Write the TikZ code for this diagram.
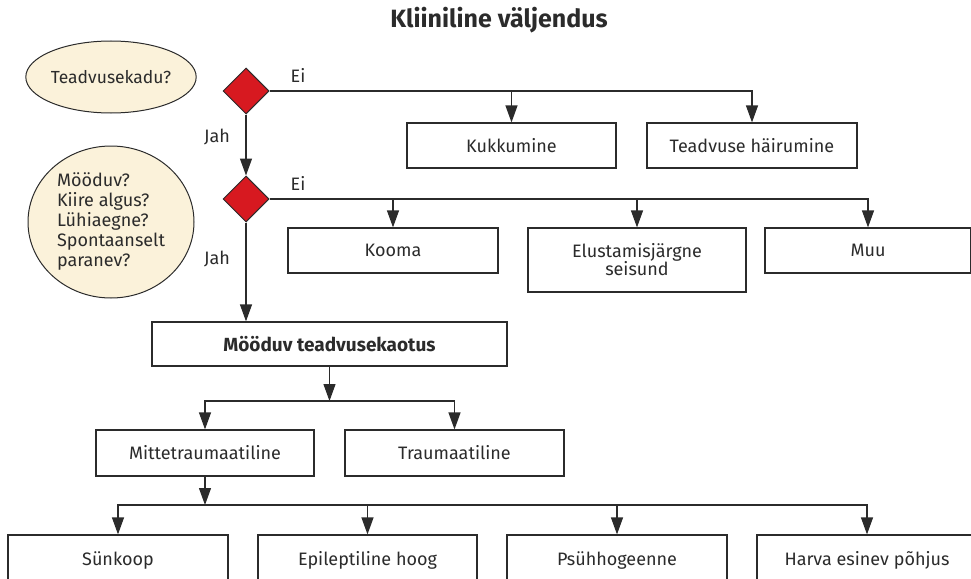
\documentclass[tikz,border=0pt]{standalone}
\usepackage{fontspec}
\setmainfont{Fira Sans}
\usepackage{xcolor}
\usepackage{tikz}
\usetikzlibrary{arrows.meta,shapes.geometric}
\definecolor{ink}{HTML}{2B2B2B}
\definecolor{cream}{HTML}{FBF2DA}
\definecolor{alarm}{HTML}{D71920}
\tikzset{
  lab/.style={text=ink, font=\fontsize{18}{20}\selectfont},
  box/.style={draw=ink, line width=1.2pt, fill=white, text=ink, font=\fontsize{18}{20}\selectfont, inner sep=0pt, align=center},
  ask/.style={ellipse, draw=ink, line width=1pt, fill=cream, text=ink, font=\fontsize{17.5}{20}\selectfont, inner sep=0pt},
  gate/.style={diamond, draw=ink, line width=1pt, fill=alarm, minimum width=46pt, minimum height=46pt, inner sep=0pt},
  wire/.style={draw=ink, line width=1.2pt},
  arr/.style={wire, -{Triangle[length=17pt,width=12pt]}}
}
\begin{document}
\begin{tikzpicture}[x=1pt,y=-1pt]
\useasboundingbox (0,0) rectangle (971,578);
\clip (0,0) rectangle (971,578);
\node[text=ink, font=\fontsize{25}{28}\selectfont\bfseries] (title) at (499,20) {Kliiniline väljendus};

\node[ask, minimum width=164pt, minimum height=72pt] (q1) at (111,77) {Teadvusekadu?};
\node[ask, minimum width=166pt, minimum height=152pt, align=left, font=\fontsize{18}{20}\selectfont] (q2) at (111,222) {Mööduv?\\Kiire algus?\\Lühiaegne?\\Spontaanselt\\paranev?};

\node[gate] (d1) at (246,91) {};
\node[gate] (d2) at (246,199) {};
\node[lab] (ei1) at (298,75) {Ei};
\node[lab] (ei2) at (298,183) {Ei};
\node[lab] (jah1) at (217,137) {Jah};
\node[lab] (jah2) at (217,259) {Jah};

\node[box, minimum width=209pt, minimum height=45pt] (kukk) at (511.5,145.5) {Kukkumine};
\node[box, minimum width=210pt, minimum height=45pt] (hair) at (752,145.5) {Teadvuse häirumine};

\node[box, minimum width=210pt, minimum height=45pt] (kooma) at (393,250.5) {Kooma};
\node[box, minimum width=218pt, minimum height=64pt, font=\fontsize{18}{18}\selectfont] (elust) at (637,260) {Elustamisjärgne\\seisund};
\node[box, minimum width=206pt, minimum height=45pt] (muu) at (868,250.5) {Muu};

\node[box, minimum width=355pt, minimum height=44pt, font=\fontsize{19}{20}\selectfont\bfseries] (mood) at (329.5,344) {Mööduv teadvusekaotus};

\node[box, minimum width=218pt, minimum height=46pt] (mitte) at (205,453) {Mittetraumaatiline};
\node[box, minimum width=219pt, minimum height=46pt] (trauma) at (454.5,453) {Traumaatiline};

\node[box, minimum width=220pt, minimum height=50pt] (sunk) at (118,560) {Sünkoop};
\node[box, minimum width=219pt, minimum height=50pt] (epi) at (367.5,560) {Epileptiline hoog};
\node[box, minimum width=220pt, minimum height=50pt] (psyh) at (617,560) {Psühhogeenne};
\node[box, minimum width=220pt, minimum height=50pt] (harva) at (867,560) {Harva esinev põhjus};

\coordinate (j1) at (329.5,401);
\coordinate (j2) at (205,505);

% first question
\draw[arr] (d1.east) -| (hair.north);
\draw[arr] (kukk.north |- d1.east) -- (kukk.north);
\draw[arr] (d1.south) -- (d2.north);

% second question
\draw[arr] (d2.east) -| (muu.north);
\draw[arr] (kooma.north |- d2.east) -- (kooma.north);
\draw[arr] (elust.north |- d2.east) -- (elust.north);
\draw[arr] (d2.south) -- (d2.south |- mood.north);

% split below
\draw[arr] (mood.south) -- (j1);
\draw[arr] (j1) -| (mitte.north);
\draw[arr] (j1) -| (trauma.north);
\draw[arr] (mitte.south) -- (j2);
\foreach \t in {sunk,epi,psyh,harva}
  \draw[arr] (j2) -| (\t.north);
\end{tikzpicture}
\end{document}
